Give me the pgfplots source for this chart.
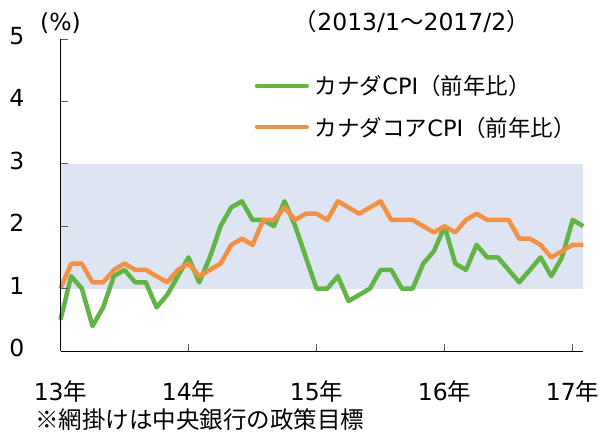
\documentclass[border=0pt]{standalone}
\usepackage{fontspec}
\setmainfont{DejaVu Sans}
\newfontfamily\cjk{Noto Sans CJK JP}
\usepackage{pgfplots}
\usepackage{pgfplotstable}
\pgfplotsset{compat=1.18}
\definecolor{cpigreen}{RGB}{98,180,68}
\definecolor{coreorange}{RGB}{242,145,70}
\definecolor{bandblue}{RGB}{220,229,241}
\newcommand\lbl{\fontsize{23.5bp}{27bp}\selectfont}
\newcommand\jlbl{\fontsize{22.5bp}{26bp}\selectfont}

\pgfplotstableread{
m cpi core
0 0.5 1.0
1 1.2 1.4
2 1.0 1.4
3 0.4 1.1
4 0.7 1.1
5 1.2 1.3
6 1.3 1.4
7 1.1 1.3
8 1.1 1.3
9 0.7 1.2
10 0.9 1.1
11 1.2 1.3
12 1.5 1.4
13 1.1 1.2
14 1.5 1.3
15 2.0 1.4
16 2.3 1.7
17 2.4 1.8
18 2.1 1.7
19 2.1 2.1
20 2.0 2.1
21 2.4 2.3
22 2.0 2.1
23 1.5 2.2
24 1.0 2.2
25 1.0 2.1
26 1.2 2.4
27 0.8 2.3
28 0.9 2.2
29 1.0 2.3
30 1.3 2.4
31 1.3 2.1
32 1.0 2.1
33 1.0 2.1
34 1.4 2.0
35 1.6 1.9
36 2.0 2.0
37 1.4 1.9
38 1.3 2.1
39 1.7 2.2
40 1.5 2.1
41 1.5 2.1
42 1.3 2.1
43 1.1 1.8
44 1.3 1.8
45 1.5 1.7
46 1.2 1.5
47 1.5 1.6
48 2.1 1.7
49 2.0 1.7
}\datatable

\begin{document}
\begin{tikzpicture}
\useasboundingbox (-60.5bp,-82bp) rectangle (542.5bp,351bp);
\begin{axis}[
  at={(0,0)}, anchor=south west,
  scale only axis, width=522.8bp, height=312bp,
  xmin=0, xmax=49, ymin=0, ymax=5,
  clip=false,
  axis lines*=left,
  axis line style={-, black, line width=0.9bp},
  axis on top,
  tick align=inside,
  major tick length=7bp,
  tick style={black!65, line width=1bp},
  xtick={0,12,24,36,48},
  xticklabels={13{\cjk 年},14{\cjk 年},15{\cjk 年},16{\cjk 年},17{\cjk 年}},
  ytick={0,1,2,3,4,5},
  /pgf/number format/assume math mode=true,
  xticklabel style={font=\lbl, anchor=center, inner sep=0pt, yshift=-41bp},
  yticklabel style={font=\lbl, anchor=east, inner sep=0pt, xshift=-36bp, yshift=3bp},
  legend style={at={(axis cs:18.2,3.918)}, anchor=west, draw=none, fill=none,
    inner sep=0pt, font=\jlbl, row sep=21bp,
    nodes={inner sep=0pt}},
  legend cell align=left,
  legend image code/.code={\draw[#1, line width=4bp, line cap=round] (2bp,0bp) -- (52bp,0bp);},
  legend columns=1,
]
\addplot[draw=none, fill=bandblue, forget plot] coordinates {(0,1) (49,1) (49,3) (0,3)} -- cycle;
\addplot[cpigreen, line width=4.5bp, line join=round] table[x=m, y=cpi] {\datatable};
\addlegendentry{\hspace{6bp}{\cjk カナダ}CPI{\cjk （前年比）}}
\addplot[coreorange, line width=4.5bp, line join=round] table[x=m, y=core] {\datatable};
\addlegendentry{\hspace{6bp}{\cjk カナダコア}CPI{\cjk （前年比）}}
\node[font=\lbl, anchor=center] at ([yshift=16bp]rel axis cs:0,1) {(\%)};
\node[font=\lbl, anchor=center] at ([yshift=17bp]rel axis cs:0.672,1) {{\cjk （}2013/1{\cjk ～}2017/2{\cjk ）}};
\node[font=\lbl, anchor=west, inner sep=0pt] at ([xshift=-25.5bp, yshift=-69bp]rel axis cs:0,0) {\cjk ※網掛けは中央銀行の政策目標};
\end{axis}
\end{tikzpicture}
\end{document}
